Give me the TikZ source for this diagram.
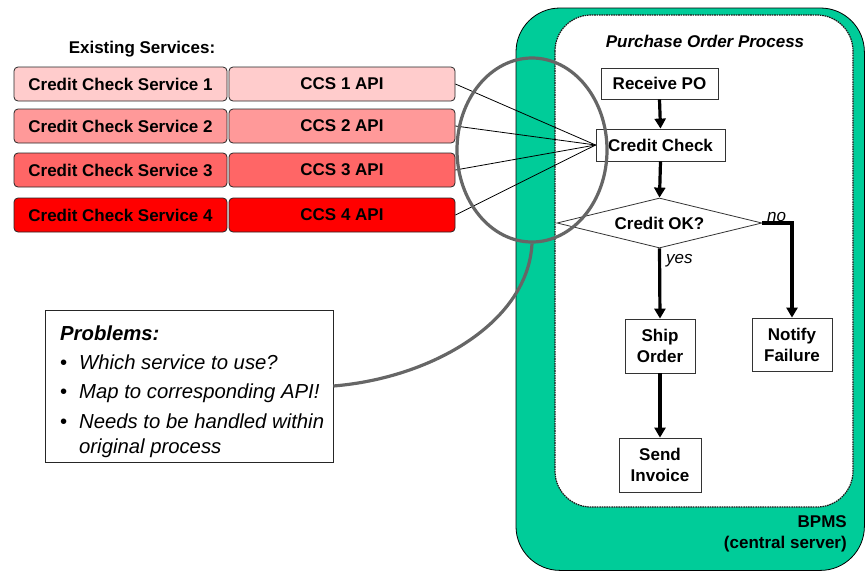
\documentclass[tikz,border=0pt]{standalone}
\usepackage{fontspec}
\setmainfont{Liberation Sans}
\usetikzlibrary{shapes.geometric,arrows.meta}
\definecolor{bpmsgreen}{RGB}{0,204,153}
\definecolor{rowa}{RGB}{255,204,204}
\definecolor{rowb}{RGB}{255,153,153}
\definecolor{rowc}{RGB}{255,102,102}
\definecolor{rowd}{RGB}{255,0,0}
\definecolor{ellgray}{RGB}{102,102,102}
\tikzset{
  base font/.style={font=\fontsize{17}{21}\selectfont\bfseries},
  svcbox/.style={draw=black!85, line width=0.8pt, rounded corners=4pt, minimum height=34pt, inner sep=0pt, base font},
  procbox/.style={draw=black!80, line width=0.8pt, fill=white, inner sep=0pt, align=center, base font},
  flow/.style={line width=3.2pt, -{Triangle[length=10pt,width=11pt]}},
  thinconn/.style={line width=0.8pt},
  plaintext/.style={inner sep=0pt, font=\fontsize{17}{21}\selectfont},
  probtext/.style={inner sep=0pt, anchor=base west, font=\fontsize{20.3}{24}\selectfont\itshape},
}
\begin{document}
\begin{tikzpicture}[x=1pt,y=-1pt]
\useasboundingbox (0,0) rectangle (865,571);
% BPMS outer box
\draw[fill=bpmsgreen, line width=0.8pt, rounded corners=44pt] (516,8) rectangle (864.4,570.4);
% Inner process box
\draw[fill=white, draw=black!90, line width=1.2pt, dash pattern=on 1.6pt off 0.8pt, rounded corners=36pt] (555,15) rectangle (853,507);
\node[plaintext, font=\fontsize{17}{21}\selectfont\bfseries\itshape] (ptitle) at (705,41) {Purchase Order Process};
\node[plaintext, font=\fontsize{17}{21}\selectfont\bfseries, anchor=base east] (bpms1) at (847,527) {BPMS};
\node[plaintext, font=\fontsize{17}{21}\selectfont\bfseries, anchor=base east] (bpms2) at (847,548) {(central server)};

% process nodes
\node[procbox, minimum width=117pt, minimum height=31pt] (recv) at (659.5,83.5) {Receive PO};
\node[procbox, minimum width=129pt, minimum height=32pt] (cc) at (660.5,145) {Credit Check};
\node[draw=black!80, line width=0.8pt, fill=white, diamond, aspect=4.1, minimum width=205pt, minimum height=50pt, inner sep=0pt, base font] (ok) at (659.5,223) {Credit OK?};
\node[procbox, minimum width=70pt, minimum height=54pt] (ship) at (660,346) {Ship\\Order};
\node[procbox, minimum width=80pt, minimum height=53pt] (notify) at (792,344.5) {Notify\\Failure};
\node[procbox, minimum width=82pt, minimum height=54pt] (invoice) at (660,465) {Send\\Invoice};
\coordinate (nocorner) at (792,223);

\draw[flow] (recv.south) -- (cc.north);
\draw[flow] (cc.south) -- (ok.north);
\draw[flow] (ok.south) -- (ship.north);
\draw[flow] (ok.east) -- (nocorner) -- (notify.north);
\draw[flow] (ship.south) -- (invoice.north);
\node[plaintext, anchor=base west, font=\fontsize{17}{21}\selectfont\itshape] (nolbl) at (767,221) {no};
\node[plaintext, anchor=base west, font=\fontsize{17}{21}\selectfont\itshape] (yeslbl) at (666,263) {yes};

% existing services
\node[plaintext, font=\fontsize{17}{21}\selectfont\bfseries, anchor=base] (exist) at (142,53) {Existing Services:};
\node[svcbox, fill=rowa, minimum width=213pt] (s1) at (120.5,84) {Credit Check Service 1};
\node[svcbox, fill=rowa, minimum width=226pt] (a1) at (342,84) {CCS 1 API};
\node[svcbox, fill=rowb, minimum width=213pt] (s2) at (120.5,126) {Credit Check Service 2};
\node[svcbox, fill=rowb, minimum width=226pt] (a2) at (342,126) {CCS 2 API};
\node[svcbox, fill=rowc, minimum width=213pt] (s3) at (120.5,170) {Credit Check Service 3};
\node[svcbox, fill=rowc, minimum width=226pt] (a3) at (342,170) {CCS 3 API};
\node[svcbox, fill=rowd, minimum width=213pt] (s4) at (120.5,215) {Credit Check Service 4};
\node[svcbox, fill=rowd, minimum width=226pt] (a4) at (342,215) {CCS 4 API};

\draw[thinconn] (a1.east) -- (cc.west);
\draw[thinconn] (a2.east) -- (cc.west);
\draw[thinconn] (a3.east) -- (cc.west);
\draw[thinconn] (a4.east) -- (cc.west);

% highlight ellipse and callout
\node[draw=ellgray, line width=3.2pt, ellipse, minimum width=150pt, minimum height=184pt, inner sep=0pt] (ell) at (532,150) {};
\node[draw=black!85, line width=0.8pt, fill=white, minimum width=288pt, minimum height=152pt, inner sep=0pt] (prob) at (189,386) {};
\draw[ellgray, line width=3.2pt] (ell.south) .. controls (528,322) and (432,378) .. (prob.east);

\node[probtext, font=\fontsize{20.3}{24}\selectfont\bfseries\itshape] (p0) at (60,340) {Problems:};
\node[probtext, font=\fontsize{20.3}{24}\selectfont] (b1) at (60,369) {\textbullet};
\node[probtext] (p1) at (79,369) {Which service to use?};
\node[probtext, font=\fontsize{20.3}{24}\selectfont] (b2) at (60,398) {\textbullet};
\node[probtext] (p2) at (79,398) {Map to corresponding API!};
\node[probtext, font=\fontsize{20.3}{24}\selectfont] (b3) at (60,428) {\textbullet};
\node[probtext] (p3) at (79,428) {Needs to be handled within};
\node[probtext] (p4) at (79,453) {original process};
\end{tikzpicture}
\end{document}
